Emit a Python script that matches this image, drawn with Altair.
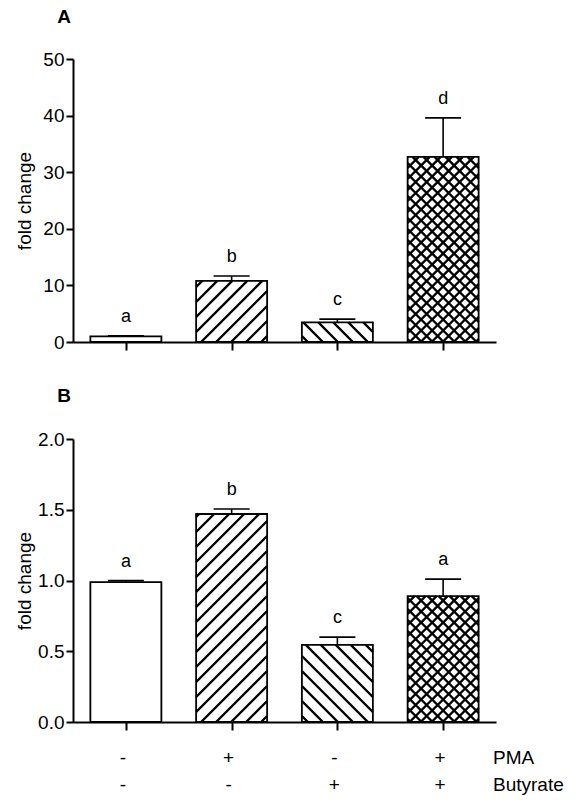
import altair as alt
import pandas as pd

# ---- data ----
positions = [0, 1, 2, 3]
pma = ["-", "+", "-", "+"]
butyrate = ["-", "-", "+", "+"]
patterns = ["none", "fwd", "back", "cross"]

a_mean = [1.0, 10.8, 3.45, 32.7]
a_err = [0.1, 0.85, 0.6, 6.9]
a_letters = ["a", "b", "c", "d"]

b_mean = [0.988, 1.47, 0.545, 0.89]
b_err = [0.011, 0.035, 0.055, 0.12]
b_letters = ["a", "b", "c", "a"]

# ---- styling / geometry ----
W_PLOT = 423
H_PLOT = 283
KX = W_PLOT / 4.0            # px per x unit
HALF = 35.5 / KX             # half bar width (x units)
CAP = 18 / KX                # half cap width
FONT = "Liberation Sans"


def hatch(pos, top, ky, kind):
    w = 2 * HALF * KX
    h = top * ky
    segs = []

    def fwd(s, phase):
        c = -w + phase
        while c < h:
            u0, u1 = max(0.0, -c), min(w, h - c)
            if u1 - u0 > 0.5:
                segs.append((u0, u0 + c, u1, u1 + c))
            c += s

    def back(s, phase):
        c = phase
        while c < w + h:
            u0, u1 = max(0.0, c - h), min(w, c)
            if u1 - u0 > 0.5:
                segs.append((u0, c - u0, u1, c - u1))
            c += s

    if kind == "fwd":
        fwd(15, 6)
    elif kind == "back":
        back(15, 6)
    elif kind == "cross":
        fwd(11, 3)
        back(11, 3)
    left = pos - HALF
    return [
        {"hx": left + u0 / KX, "hy": v0 / ky, "hx2": left + u1 / KX, "hy2": v1 / ky}
        for (u0, v0, u1, v1) in segs
    ]


def panel(mean, err, letters, ymax, yvals, fmt, tag, tag_y, bottom_rows):
    ky = H_PLOT / ymax
    df = pd.DataFrame({
        "pos": positions,
        "mean": mean,
        "top": [m + e for m, e in zip(mean, err)],
        "x0": [p - HALF for p in positions],
        "x1": [p + HALF for p in positions],
        "c0": [p - CAP for p in positions],
        "c1": [p + CAP for p in positions],
        "zero": [0] * 4,
        "letter": letters,
        "pma": pma,
        "but": butyrate,
    })
    rows = []
    for p, m, k in zip(positions, mean, patterns):
        rows += hatch(p, m, ky, k)
    hdf = pd.DataFrame(rows)

    xs = alt.Scale(domain=[-0.5, 3.5], nice=False, zero=False)
    ys = alt.Scale(domain=[0, ymax], nice=False)

    x_axis = alt.Axis(values=positions, labels=False, title=None, grid=False,
                      tickSize=8, tickWidth=2, tickColor="black",
                      domainWidth=2, domainColor="black")
    y_axis = alt.Axis(values=yvals, format=fmt, title="fold change", grid=False,
                      tickSize=7, tickWidth=2, tickColor="black",
                      domainWidth=2, domainColor="black",
                      labelFontSize=19, labelColor="black", labelPadding=2,
                      titleFontSize=19, titleFontWeight="normal", titleColor="black",
                      titleX=-49, titleY=H_PLOT / 2, titleAngle=270,
                      titleAlign="center", titleBaseline="middle")

    X = lambda f: alt.X(f, scale=xs, axis=x_axis)
    Y = lambda f: alt.Y(f, scale=ys, axis=y_axis)

    base = alt.Chart(df)
    bars = base.mark_rect(fill="white", stroke=None).encode(
        x=X("x0:Q"), x2="x1:Q", y=Y("zero:Q"), y2="mean:Q")
    hatches = alt.Chart(hdf).mark_rule(color="black", strokeWidth=2.4).encode(
        x=X("hx:Q"), x2="hx2:Q", y=Y("hy:Q"), y2="hy2:Q")
    outline = base.mark_rect(fill="white", fillOpacity=0, stroke="black", strokeWidth=1.8).encode(
        x=X("x0:Q"), x2="x1:Q", y=Y("zero:Q"), y2="mean:Q")
    stem = base.mark_rule(color="black", strokeWidth=1.6).encode(
        x=X("pos:Q"), y=Y("mean:Q"), y2="top:Q")
    cap = base.mark_rule(color="black", strokeWidth=1.6).encode(
        x=X("c0:Q"), x2="c1:Q", y=Y("top:Q"))
    lett = base.mark_text(fontSize=18, dy=-19, baseline="middle", color="black").encode(
        x=X("pos:Q"), y=Y("top:Q"), text="letter:N")
    tag_t = base.transform_filter(alt.datum.pos == 0).mark_text(
        fontSize=19, fontWeight="bold", baseline="alphabetic", align="center", color="black"
    ).encode(x=alt.value(-9), y=alt.value(tag_y), text=alt.value(tag))

    layers = [bars, hatches, outline, stem, cap, lett, tag_t]
    if bottom_rows:
        r1 = base.mark_text(fontSize=19, baseline="middle", dx=-3, color="black").encode(
            x=X("pos:Q"), y=alt.value(319), text="pma:N")
        r2 = base.mark_text(fontSize=19, baseline="middle", dx=-3, color="black").encode(
            x=X("pos:Q"), y=alt.value(346), text="but:N")
        lab = base.transform_filter(alt.datum.pos == 0).mark_text(
            fontSize=19, baseline="middle", align="left", color="black").encode(
            x=alt.value(420), y=alt.value(319), text=alt.value("PMA"))
        lab2 = base.transform_filter(alt.datum.pos == 0).mark_text(
            fontSize=19, baseline="middle", align="left", color="black").encode(
            x=alt.value(420), y=alt.value(346), text=alt.value("Butyrate"))
        layers += [r1, r2, lab, lab2]
    return alt.layer(*layers).properties(width=W_PLOT, height=H_PLOT)


top = panel(a_mean, a_err, a_letters, 50, [0, 10, 20, 30, 40, 50], "d", "A", -36, False)
bottom = panel(b_mean, b_err, b_letters, 2.0, [0, 0.5, 1.0, 1.5, 2.0], ".1f", "B", -37, True)

chart = alt.vconcat(top, bottom, spacing=35).properties(
    padding={"left": 7, "top": 0, "right": 0, "bottom": 0}
).configure(font=FONT).configure_view(stroke=None)

chart.save("out.html", embed_options={"renderer": "svg", "actions": False})
